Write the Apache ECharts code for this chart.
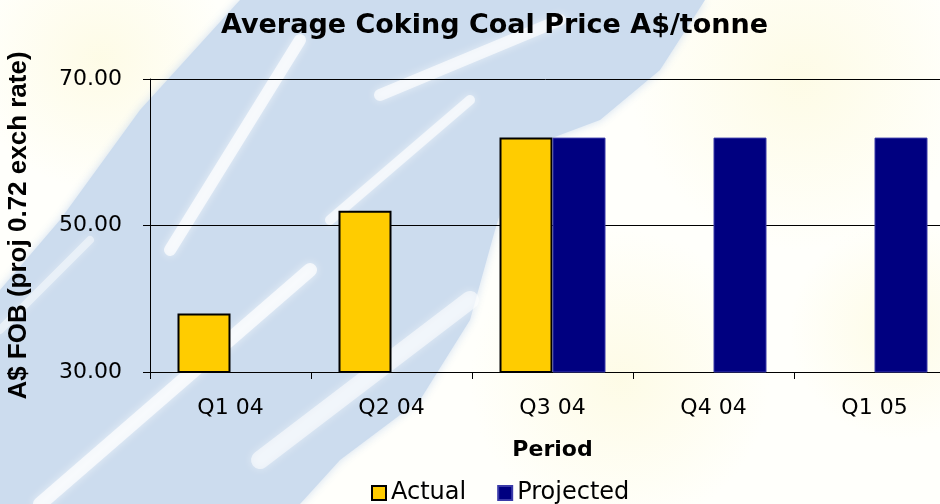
<!DOCTYPE html>
<html>
<head>
<meta charset="utf-8">
<script src="https://cdn.jsdelivr.net/npm/echarts@6/dist/echarts.min.js"></script>
<style>
  html, body { margin: 0; padding: 0; background: #fff; }
  #chart { width: 940px; height: 504px; }
</style>
</head>
<body>
<div id="chart"></div>
<script>
// chart data
const categories = ['Q1 04', 'Q2 04', 'Q3 04', 'Q4 04', 'Q1 05']
const actual = [38, 52, 62, '-', '-']
const projected = ['-', '-', 62, 62, 62]
const yTicks = [30, 50, 70]

// the reference text is a bit wide, DejaVu gets closer than Arial
const wide = '"DejaVu Sans", Arial, sans-serif'
const arial = 'Arial, "Liberation Sans", sans-serif'

// decorative backdrop (blue streaked band, pale yellow haze)
const streak = (pts, w, op) => ({
  type: 'polyline',
  silent: true,
  z: -9,
  shape: { points: pts },
  style: { stroke: 'rgba(255,255,255,' + op + ')', lineWidth: w, lineCap: 'round', fill: null, shadowBlur: 8, shadowColor: 'rgba(255,255,255,0.8)' },
})

const haze = (cx, cy, r) => ({
  type: 'circle',
  silent: true,
  z: -19,
  shape: { cx, cy, r },
  style: {
    fill: new echarts.graphic.RadialGradient(0.5, 0.5, 0.5, [
      { offset: 0, color: 'rgba(252,247,205,0.45)' },
      { offset: 1, color: 'rgba(252,247,205,0)' },
    ]),
  },
})

const backdrop = [
  { type: 'rect', silent: true, z: -20, shape: { x: 0, y: 0, width: 940, height: 504 }, style: { fill: '#fffffb' } },
  haze(100, 60, 130),
  haze(800, 80, 170),
  haze(620, 380, 150),
  haze(900, 330, 110),
  {
    type: 'polygon',
    silent: true,
    z: -10,
    shape: {
      points: [[240, 0], [705, 0], [660, 70], [600, 120], [520, 150], [495, 230], [470, 320], [420, 400], [340, 460], [300, 504], [0, 504], [0, 290], [60, 220], [140, 110]],
    },
    style: { fill: '#ccdcee', shadowBlur: 10, shadowColor: 'rgba(204,220,238,0.9)' },
  },
  streak([[40, 504], [310, 270]], 14, 0.7),
  streak([[170, 250], [300, 40]], 12, 0.7),
  streak([[330, 220], [470, 100]], 10, 0.65),
  streak([[380, 95], [560, 20]], 12, 0.65),
  streak([[260, 460], [470, 300]], 18, 0.55),
  streak([[0, 330], [90, 240]], 8, 0.45),
]

const chart = echarts.init(document.getElementById('chart'))

chart.setOption({
  animation: false,
  backgroundColor: 'transparent',
  graphic: { elements: backdrop },
  title: {
    text: 'Average Coking Coal Price A$/tonne',
    left: 216,
    top: 7,
    textStyle: { fontFamily: wide, fontSize: 27, fontWeight: 'bold', color: '#000' },
  },
  legend: {
    data: ['Actual', 'Projected'],
    icon: 'rect',
    left: 366,
    top: 476,
    itemWidth: 14,
    itemHeight: 14,
    itemGap: 31,
    textStyle: { fontFamily: wide, fontSize: 24, color: '#000' },
  },
  grid: { left: 150, right: -15, top: 79, bottom: 132, outerBoundsMode: 'none' },
  xAxis: {
    type: 'category',
    data: categories,
    name: 'Period',
    nameLocation: 'middle',
    nameGap: 67,
    nameTextStyle: { fontFamily: wide, fontSize: 22, fontWeight: 'bold', color: '#000' },
    axisLine: { lineStyle: { color: '#000', width: 1 } },
    axisTick: { show: true, length: 7, lineStyle: { color: '#000' } },
    axisLabel: { margin: 25, fontFamily: wide, fontSize: 22, color: '#000' },
  },
  yAxis: {
    type: 'value',
    min: yTicks[0],
    max: yTicks[yTicks.length - 1],
    interval: yTicks[1] - yTicks[0],
    name: 'A$ FOB (proj 0.72 exch rate)',
    nameLocation: 'middle',
    nameGap: 118,
    nameTextStyle: { fontFamily: arial, fontSize: 26, fontWeight: 'bold', color: '#000' },
    axisLine: { show: true, lineStyle: { color: '#000', width: 1 } },
    axisTick: { show: true, length: 7, lineStyle: { color: '#000' } },
    axisLabel: { margin: 28, fontFamily: wide, fontSize: 22, color: '#000', formatter: v => v.toFixed(2) },
    splitLine: { show: true, lineStyle: { color: '#000', width: 1 } },
  },
  series: [
    {
      name: 'Actual',
      type: 'bar',
      data: actual,
      barWidth: 53,
      barGap: '0%',
      itemStyle: { color: '#ffcc00', borderColor: '#000', borderWidth: 2 },
    },
    {
      name: 'Projected',
      type: 'bar',
      data: projected,
      barWidth: 53,
      barGap: '0%',
      itemStyle: { color: '#000080', borderColor: '#3a3aa8', borderWidth: 1 },
    },
  ],
})
</script>
</body>
</html>
